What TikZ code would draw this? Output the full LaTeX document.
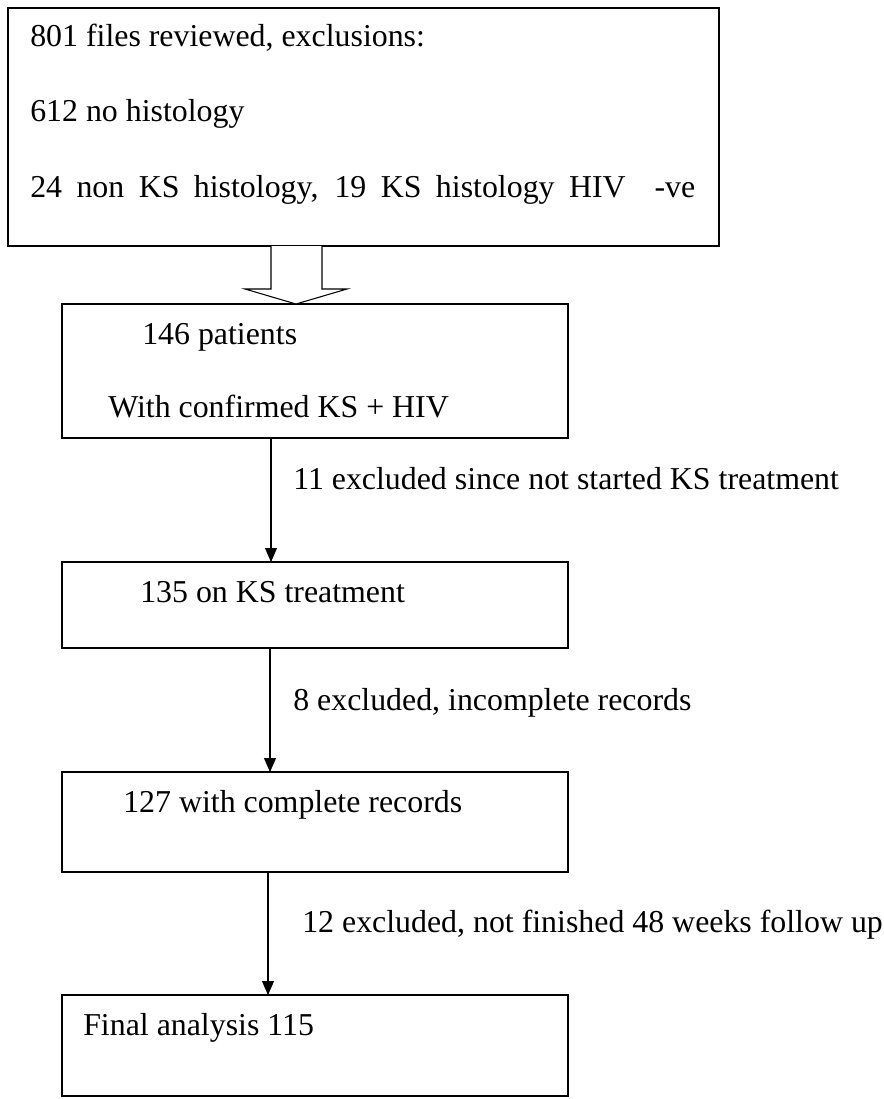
\documentclass[tikz,border=0pt]{standalone}
\usepackage{fontspec}
\setmainfont{Liberation Serif}
\usetikzlibrary{arrows.meta}

\begin{document}
\begin{tikzpicture}[x=0.75pt,y=-0.75pt,
    box/.style={draw,line width=1pt,inner sep=0pt,outer sep=0pt},
    txt/.style={anchor=base west,inner sep=0pt,font=\fontsize{23.9}{28}\selectfont},
    flow/.style={-{Triangle[length=10.5pt,width=9pt]},line width=0.8pt}]
       \useasboundingbox (0,0) rectangle (884,1099);
       % boxes
       \node[box,minimum width=711*0.75pt,minimum height=238*0.75pt] (files)    at (363.5,127) {};
       \node[box,minimum width=506*0.75pt,minimum height=134*0.75pt] (patients) at (315,371) {};
       \node[box,minimum width=506*0.75pt,minimum height=86*0.75pt]  (treated)  at (315,605) {};
       \node[box,minimum width=506*0.75pt,minimum height=100*0.75pt] (complete) at (315,822) {};
       \node[box,minimum width=506*0.75pt,minimum height=101*0.75pt] (final)    at (315,1045.5) {};
       % texts
       \node[txt] (files1) at (30,47)  {801 files reviewed, exclusions:};
       \node[txt] (files2) at (30,122) {612 no histology};
       \node[txt] (files3) at (30,197) {\makebox[498.75pt][s]{24 non KS histology, 19 KS histology HIV \ -ve}};
       \node[txt] (pat1) at (142,344) {146 patients};
       \node[txt] (pat2) at (108,417) {With confirmed KS + HIV};
       \node[txt] (treat1) at (140,602) {135 on KS treatment};
       \node[txt] (comp1) at (123,812) {127 with complete records};
       \node[txt] (fin1) at (83,1035) {Final analysis 115};
       % hollow arrow
       \draw[line width=0.8pt,fill=white] (271,246) -- (271,289) -- (245,289) -- (296,304)
            -- (347,289) -- (322,289) -- (322,246);
       % arrows
       \coordinate (a1) at (271,0);
       \coordinate (a2) at (270,0);
       \coordinate (a3) at (268,0);
       \draw[flow] (patients.south -| a1) -- (treated.north -| a1);
       \draw[flow] (treated.south -| a2) -- (complete.north -| a2);
       \draw[flow] (complete.south -| a3) -- (final.north -| a3);
       \node[txt] (ex1) at (293,489) {11 excluded since not started KS treatment};
       \node[txt] (ex2) at (293,710) {8 excluded, incomplete records};
       \node[txt] (ex3) at (302,932) {12 excluded, not finished 48 weeks follow up};
      \end{tikzpicture}
\end{document}
